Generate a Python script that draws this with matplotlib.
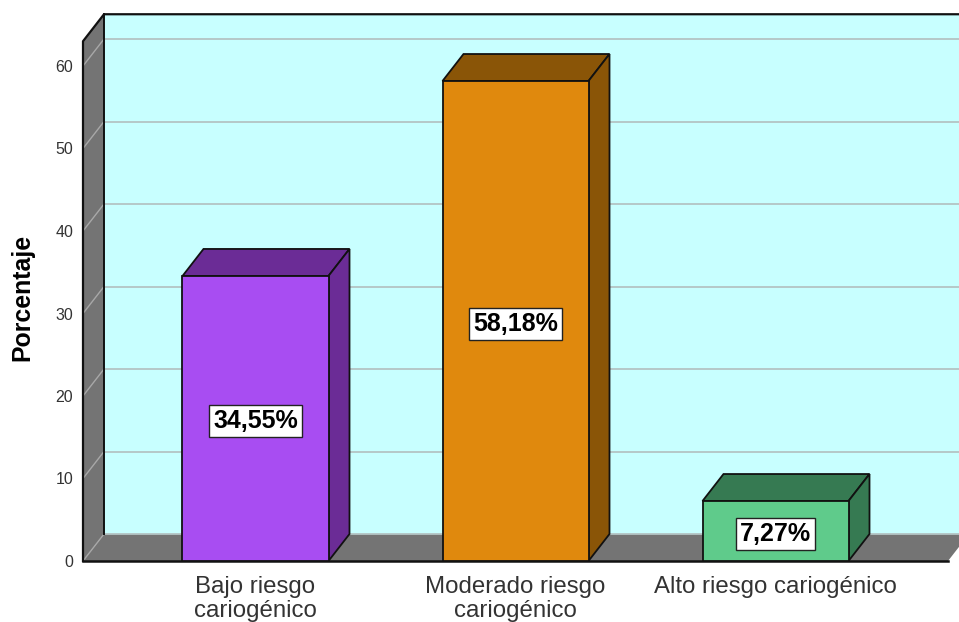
import matplotlib
matplotlib.use("Agg")
import matplotlib.pyplot as plt
from matplotlib.patches import Polygon

plt.rcParams["font.family"] = ["Liberation Sans", "DejaVu Sans"]

# Data
categories = ["Bajo riesgo\ncariogénico", "Moderado riesgo\ncariogénico", "Alto riesgo cariogénico"]
values = [34.55, 58.18, 7.27]
value_labels = ["34,55%", "58,18%", "7,27%"]
yticks = [0, 10, 20, 30, 40, 50, 60]

# Colours per bar
front_colors = ["#A84DF2", "#E0890D", "#5FCB8B"]
shade_colors = ["#6B2C96", "#8A5507", "#367A52"]

# 3D look: depth of the fake box, in data units
DEPTH_X = 21 / 260
DEPTH_Y = 27 / 8.25
BAR_WIDTH = 146 / 260
Y_TOP = 63
X_LEFT = (83 - 255.5) / 260
X_RIGHT = (959 - 255.5) / 260
X_FLOOR_END = (948 - 255.5) / 260

WALL = "#C8FFFF"
GRAY = "#747474"
GRID = "#B4C4C4"


def main() -> None:
    fig = plt.figure(figsize=(9.59, 6.22), dpi=100)
    ax = fig.add_axes([83 / 959, 61 / 622, (959 - 83) / 959, 561 / 622])
    ax.set_xlim(X_LEFT, X_RIGHT)
    ax.set_ylim(0, 68)
    ax.patch.set_visible(False)
    for spine in ax.spines.values():
        spine.set_visible(False)

    def poly(points, face, edge="none", lw=0.0, z=1):
        ax.add_patch(Polygon(points, closed=True, facecolor=face, edgecolor=edge,
                             linewidth=lw, zorder=z, clip_on=False, joinstyle="miter"))

    back_x = X_LEFT + DEPTH_X
    back_r = X_RIGHT + 0.2

    # Back wall, side wall and floor
    poly([(back_x, DEPTH_Y), (back_r, DEPTH_Y), (back_r, Y_TOP + DEPTH_Y), (back_x, Y_TOP + DEPTH_Y)], WALL, z=1)
    poly([(X_LEFT, 0), (back_x, DEPTH_Y), (back_x, Y_TOP + DEPTH_Y), (X_LEFT, Y_TOP)], GRAY, z=1)
    poly([(X_LEFT, 0), (X_FLOOR_END, 0), (X_FLOOR_END + DEPTH_X, DEPTH_Y), (back_x, DEPTH_Y)], GRAY, z=1)

    # Gridlines on back and side walls
    for t in yticks:
        ax.plot([back_x, X_RIGHT], [t + DEPTH_Y, t + DEPTH_Y], color=GRID, lw=1.3, zorder=2)
        ax.plot([X_LEFT, back_x], [t, t + DEPTH_Y], color="#A8A8A8", lw=1.0, zorder=2)

    # Frame
    ax.plot([X_LEFT, X_LEFT, back_x, X_RIGHT], [0, Y_TOP, Y_TOP + DEPTH_Y, Y_TOP + DEPTH_Y],
            color="#111111", lw=1.6, zorder=3, clip_on=False)
    ax.plot([back_x, back_x], [DEPTH_Y, Y_TOP + DEPTH_Y], color="#111111", lw=1.4, zorder=3)
    ax.plot([X_LEFT, X_FLOOR_END], [0, 0], color="#111111", lw=1.8, zorder=3, clip_on=False)

    # Bars
    xs = list(range(len(values)))
    ax.bar(xs, values, width=BAR_WIDTH, color=front_colors, edgecolor="#111111", linewidth=1.3, zorder=5)
    for x, v, shade in zip(xs, values, shade_colors):
        left = x - BAR_WIDTH / 2
        right = x + BAR_WIDTH / 2
        poly([(left, v), (right, v), (right + DEPTH_X, v + DEPTH_Y), (left + DEPTH_X, v + DEPTH_Y)],
             shade, "#111111", 1.3, 4)
        poly([(right, 0), (right + DEPTH_X, DEPTH_Y), (right + DEPTH_X, v + DEPTH_Y), (right, v)],
             shade, "#111111", 1.3, 4)

    # Value labels in the middle of each bar
    for x, v, label in zip(xs, values, value_labels):
        ax.text(x, v / 2, label, ha="center", va="center_baseline", fontsize=18, fontweight="bold",
                color="black", zorder=6,
                bbox=dict(boxstyle="square,pad=0.16", facecolor="white", edgecolor="#222222", linewidth=1.0))

    ax.set_yticks(yticks)
    ax.tick_params(axis="y", length=0, pad=7, labelsize=11.5, labelcolor="#333333")
    ax.set_xticks(xs)
    ax.set_xticklabels(categories, linespacing=1.12)
    ax.tick_params(axis="x", length=0, pad=10.5, labelsize=17.3, labelcolor="#333333")

    fig.text(22 / 959, 1 - 297 / 622, "Porcentaje", rotation=90, ha="center", va="center",
             fontsize=17.9, fontweight="bold", color="black")

    fig.savefig("out.png", dpi=100, facecolor="white")


if __name__ == "__main__":
    main()
